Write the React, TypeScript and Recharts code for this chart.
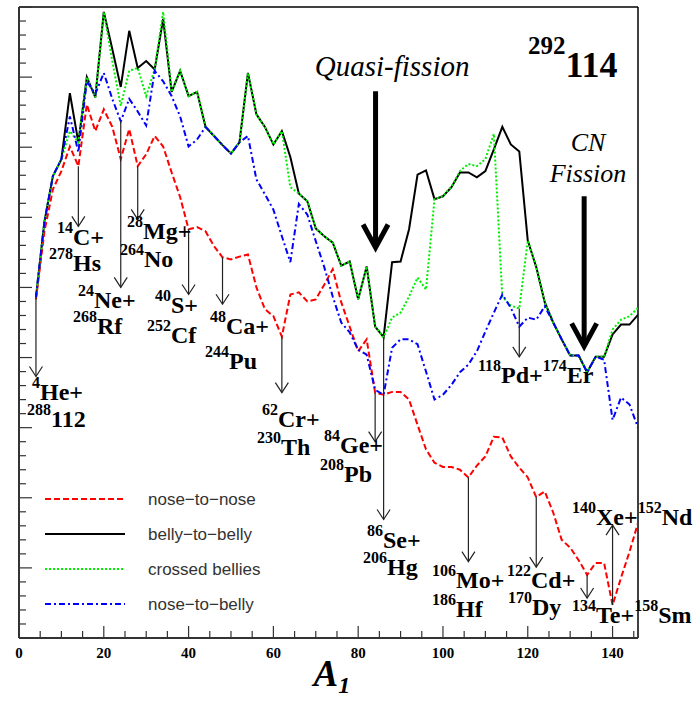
import React from 'react';
import { LineChart, Line, XAxis, YAxis, ReferenceLine, ReferenceDot, Legend } from 'recharts';

// light fragment mass A1, sampled every 2 units
const massNumbers = [
  4, 6, 8, 10, 12, 14, 16, 18, 20, 22,
  24, 26, 28, 30, 32, 34, 36, 38, 40, 42,
  44, 46, 48, 50, 52, 54, 56, 58, 60, 62,
  64, 66, 68, 70, 72, 74, 76, 78, 80, 82,
  84, 86, 88, 90, 92, 94, 96, 98, 100, 102,
  104, 106, 108, 110, 112, 114, 116, 118, 120, 122,
  124, 126, 128, 130, 132, 134, 136, 138, 140, 142,
  144, 146,
];

const noseToNose = [
  4.83, 5.80, 6.40, 6.66, 7.01, 6.73, 7.61, 7.23, 7.54, 7.29,
  6.83, 7.26, 6.73, 6.90, 7.16, 7.01, 6.64, 6.29, 5.83, 5.86,
  5.80, 5.59, 5.43, 5.40, 5.44, 5.47, 5.00, 4.69, 4.59, 4.30,
  4.90, 4.93, 4.80, 4.83, 5.04, 5.26, 4.79, 4.44, 4.09, 4.26,
  3.50, 3.47, 3.51, 3.51, 3.40, 3.04, 2.69, 2.50, 2.44, 2.44,
  2.40, 2.29, 2.46, 2.59, 2.87, 2.86, 2.59, 2.43, 2.29, 2.01,
  2.09, 1.79, 1.40, 1.29, 1.11, 0.90, 1.07, 1.07, 0.47, 0.86,
  1.23, 1.64,
];

const bellyToBelly = [
  4.86, 5.94, 6.59, 6.83, 7.77, 7.07, 8.00, 7.71, 8.93, 8.40,
  7.86, 8.66, 8.13, 8.23, 8.11, 8.83, 7.79, 8.09, 7.73, 7.79,
  7.29, 7.16, 7.03, 6.91, 7.07, 8.06, 7.47, 7.29, 7.04, 7.23,
  6.86, 6.34, 6.23, 5.84, 5.73, 5.64, 5.31, 5.37, 4.83, 5.30,
  4.44, 4.29, 5.36, 5.37, 5.83, 6.61, 6.67, 6.26, 6.30, 6.43,
  6.64, 6.64, 6.57, 6.66, 6.97, 7.29, 7.04, 6.94, 5.67, 5.29,
  4.79, 4.50, 4.26, 4.03, 4.03, 3.79, 4.01, 4.01, 4.33, 4.47,
  4.47, 4.61,
];

const crossedBellies = [
  4.86, 5.94, 6.59, 6.83, 7.23, 7.07, 8.00, 7.71, 8.93, 8.23,
  7.59, 8.09, 8.13, 7.73, 8.11, 8.93, 7.79, 8.09, 7.73, 7.79,
  7.29, 7.16, 7.03, 6.91, 7.07, 8.06, 7.47, 7.29, 7.04, 7.23,
  6.43, 6.34, 6.23, 5.84, 5.73, 5.64, 5.31, 5.37, 4.83, 5.30,
  4.44, 4.29, 4.57, 4.64, 4.87, 5.14, 4.97, 6.26, 6.30, 6.44,
  6.66, 6.76, 6.73, 6.83, 7.19, 4.87, 4.74, 4.70, 5.67, 5.29,
  4.79, 4.50, 4.26, 4.03, 4.03, 3.79, 4.01, 4.01, 4.40, 4.54,
  4.59, 4.71,
];

const noseToBelly = [
  4.86, 5.94, 6.59, 6.83, 7.44, 6.93, 7.94, 7.76, 8.06, 7.69,
  7.37, 7.69, 7.51, 7.31, 8.09, 7.94, 7.73, 7.44, 7.01, 7.11,
  7.29, 7.16, 7.03, 6.91, 7.07, 7.16, 6.54, 6.33, 6.11, 5.73,
  5.36, 6.19, 6.04, 5.66, 5.29, 4.87, 4.50, 4.36, 4.11, 4.04,
  3.54, 3.47, 4.14, 4.26, 4.26, 4.19, 3.80, 3.40, 3.47, 3.61,
  3.79, 3.90, 4.09, 4.37, 4.64, 4.90, 4.71, 4.44, 4.57, 4.54,
  4.73, 4.50, 4.26, 4.03, 4.03, 3.79, 4.01, 3.97, 3.11, 3.43,
  3.33, 3.00,
];

const xTicks = [
  0, 5, 10, 15, 20, 25, 30, 35, 40, 45, 50, 55, 60, 65, 70,
  75, 80, 85, 90, 95, 100, 105, 110, 115, 120, 125, 130, 135, 140, 145,
];
const xTickLabels = [0, 20, 40, 60, 80, 100, 120, 140];

const yTicks = [
  0, 0.2, 0.4, 0.6, 0.8, 1, 1.2, 1.4, 1.6, 1.8, 2, 2.2, 2.4, 2.6, 2.8,
  3, 3.2, 3.4, 3.6, 3.8, 4, 4.2, 4.4, 4.6, 4.8, 5, 5.2, 5.4, 5.6, 5.8,
  6, 6.2, 6.4, 6.6, 6.8, 7, 7.2, 7.4, 7.6, 7.8, 8, 8.2, 8.4, 8.6, 8.8, 9,
];

const series = [
  { key: 'noseToNose', name: 'nose\u2212to\u2212nose', color: '#ff0000', dash: '6 3' },
  { key: 'bellyToBelly', name: 'belly\u2212to\u2212belly', color: '#000000', dash: undefined },
  { key: 'crossedBellies', name: 'crossed bellies', color: '#00ee00', dash: '2 2' },
  { key: 'noseToBelly', name: 'nose\u2212to\u2212belly', color: '#0000ff', dash: '6 3 2 3' },
];

const data = massNumbers.map((a, i) => ({
  a,
  noseToNose: noseToNose[i],
  bellyToBelly: bellyToBelly[i],
  crossedBellies: crossedBellies[i],
  noseToBelly: noseToBelly[i],
}));

const valueAt = (key: string, mass: number) => {
  const row: any = data.find((d) => d.a === mass);
  return row ? row[key] : 0;
};

// decay channels: arrow from a curve down (or up) to the channel label
const channelArrows = [
  { mass: 4, from: 'bellyToBelly', tip: 3.73 },
  { mass: 14, from: 'noseToNose', tip: 5.87 },
  { mass: 24, from: 'noseToBelly', tip: 5.0 },
  { mass: 28, from: 'noseToNose', tip: 5.97 },
  { mass: 40, from: 'noseToNose', tip: 4.9 },
  { mass: 48, from: 'noseToNose', tip: 4.76 },
  { mass: 62, from: 'noseToNose', tip: 3.5 },
  { mass: 84, from: 'noseToNose', tip: 2.8 },
  { mass: 86, from: 'bellyToBelly', tip: 1.69 },
  { mass: 106, from: 'noseToNose', tip: 1.09 },
  { mass: 118, from: 'crossedBellies', tip: 4.01 },
  { mass: 122, from: 'noseToNose', tip: 1.01 },
  { mass: 134, from: 'noseToNose', tip: 0.57 },
  { mass: 140, from: 'noseToNose', tip: 1.61 },
];

// each label line: [mass number, symbol] pairs
const channelLabels: { a: number; v: number; parts: [string, string][] }[] = [
  { a: 3.07, v: 3.4, parts: [['4', 'He+']] },
  { a: 1.89, v: 3.01, parts: [['288', '112']] },
  { a: 8.96, v: 5.61, parts: [['14', 'C+']] },
  { a: 7.08, v: 5.23, parts: [['278', 'Hs']] },
  { a: 13.92, v: 4.71, parts: [['24', 'Ne+']] },
  { a: 12.74, v: 4.33, parts: [['268', 'Rf']] },
  { a: 25.47, v: 5.69, parts: [['28', 'Mg+']] },
  { a: 23.82, v: 5.29, parts: [['264', 'No']] },
  { a: 32.08, v: 4.64, parts: [['40', 'S+']] },
  { a: 30.19, v: 4.21, parts: [['252', 'Cf']] },
  { a: 45.05, v: 4.33, parts: [['48', 'Ca+']] },
  { a: 43.87, v: 3.83, parts: [['244', 'Pu']] },
  { a: 57.32, v: 3.01, parts: [['62', 'Cr+']] },
  { a: 56.14, v: 2.61, parts: [['230', 'Th']] },
  { a: 71.94, v: 2.64, parts: [['84', 'Ge+']] },
  { a: 71.0, v: 2.23, parts: [['208', 'Pb']] },
  { a: 82.08, v: 1.29, parts: [['86', 'Se+']] },
  { a: 81.14, v: 0.9, parts: [['206', 'Hg']] },
  { a: 97.41, v: 0.71, parts: [['106', 'Mo+']] },
  { a: 97.41, v: 0.3, parts: [['186', 'Hf']] },
  { a: 115.1, v: 0.71, parts: [['122', 'Cd+']] },
  { a: 115.34, v: 0.33, parts: [['170', 'Dy']] },
  { a: 130.43, v: 0.21, parts: [['134', 'Te+'], ['158', 'Sm']] },
  { a: 130.43, v: 1.61, parts: [['140', 'Xe+'], ['152', 'Nd']] },
  { a: 108.26, v: 3.64, parts: [['118', 'Pd+'], ['174', 'Er']] },
];

const serif = '"Liberation Serif", "Times New Roman", Times, serif';
const sans = '"Liberation Sans", Arial, Helvetica, sans-serif';

function Arrow(props: any) {
  const { x1, y1, y2, up, heavy } = props;
  if (x1 == null || y1 == null || y2 == null) return null;
  const tipY = up ? Math.min(y1, y2) : Math.max(y1, y2);
  const tailY = up ? Math.max(y1, y2) : Math.min(y1, y2);
  const back = up ? 1 : -1;
  const hw = heavy ? 12.5 : 6.5;
  const hh = heavy ? 23 : 10;
  const stroke = heavy ? '#000' : '#222';
  const sw = heavy ? 5 : 1.2;
  return (
    <g>
      <line x1={x1} y1={tailY} x2={x1} y2={tipY + back * (heavy ? 3 : 0)} stroke={stroke} strokeWidth={sw} />
      <path
        d={`M${x1 - hw},${tipY + back * hh} L${x1},${tipY} L${x1 + hw},${tipY + back * hh}`}
        fill="none"
        stroke={stroke}
        strokeWidth={sw}
        strokeLinejoin="miter"
      />
    </g>
  );
}

function Nuclide({ cx, cy, parts }: any) {
  if (cx == null || cy == null) return null;
  const spans: React.ReactNode[] = [];
  parts.forEach(([mass, sym]: [string, string], i: number) => {
    spans.push(
      <tspan key={`m${i}`} fontSize={16} dy={-12}>
        {mass}
      </tspan>
    );
    spans.push(
      <tspan key={`s${i}`} fontSize={24} dy={12}>
        {sym}
      </tspan>
    );
  });
  return (
    <text x={cx} y={cy} fontFamily={serif} fontWeight="bold" fill="#000">
      {spans}
    </text>
  );
}

function XTick(props: any) {
  const { x, y, payload } = props;
  const v = payload.value;
  const major = v % 20 === 0;
  return (
    <g>
      <line x1={x} y1={y} x2={x} y2={y - (major ? 12 : 7)} stroke="#333" strokeWidth={1.2} />
      {xTickLabels.includes(v) && (
        <text x={x} y={y + 20} textAnchor="middle" fontFamily={serif} fontWeight="bold" fontSize={15} fill="#000">
          {v}
        </text>
      )}
    </g>
  );
}

function YTick(props: any) {
  const { x, y, payload } = props;
  const v = payload.value;
  const major = Math.abs(v - Math.round(v)) < 1e-6;
  return <line x1={x} y1={y} x2={x + (major ? 13 : 7)} y2={y} stroke="#333" strokeWidth={1.2} />;
}

function AxisTitle(props: any) {
  const vb = props.viewBox || { x: 19, y: 638, width: 619 };
  return (
    <text x={vb.x + vb.width / 2 - 15} y={vb.y + 48} fontFamily={serif} fontStyle="italic" fontWeight="bold" fontSize={37} fill="#000">
      A
      <tspan fontSize={24} dy={7}>
        1
      </tspan>
    </text>
  );
}

function LegendBox() {
  return (
    <svg width={300} height={130}>
      {series.map((s, i) => {
        const y = 14 + i * 35;
        return (
          <g key={s.key}>
            <line x1={5} y1={y} x2={85} y2={y} stroke={s.color} strokeWidth={2} strokeDasharray={s.dash} />
            <text x={108} y={y + 6} fontFamily={sans} fontSize={17} fill="#333">
              {s.name}
            </text>
          </g>
        );
      })}
    </svg>
  );
}

export default function App() {
  return (
    <div style={{ position: 'absolute', left: 0, top: 0, width: 693, height: 702, background: '#fff' }}>
      <LineChart width={693} height={702} data={data} margin={{ top: 7, right: 55, bottom: 0, left: 0 }}>
        <XAxis
          dataKey="a"
          type="number"
          domain={[0, 146]}
          ticks={xTicks}
          interval={0}
          tickSize={0}
          tickMargin={0}
          tickLine={false}
          axisLine={{ stroke: '#333', strokeWidth: 2 }}
          tick={(p: any) => <XTick {...p} />}
          height={64}
          allowDataOverflow
          label={<AxisTitle />}
        />
        <YAxis
          type="number"
          domain={[0, 9]}
          ticks={yTicks}
          interval={0}
          tickSize={0}
          tickMargin={0}
          tickLine={false}
          axisLine={{ stroke: '#333', strokeWidth: 2 }}
          tick={(p: any) => <YTick {...p} />}
          width={19}
          allowDataOverflow
        />
        <ReferenceLine y={9} stroke="#000" strokeWidth={1.5} ifOverflow="visible" />
        <ReferenceLine x={146} stroke="#000" strokeWidth={1.5} ifOverflow="visible" />

        <Line type="linear" dataKey="bellyToBelly" name={series[1].name} stroke={series[1].color} strokeWidth={2} dot={false} isAnimationActive={false} />
        <Line type="linear" dataKey="noseToNose" name={series[0].name} stroke={series[0].color} strokeWidth={2} strokeDasharray={series[0].dash} dot={false} isAnimationActive={false} />
        <Line type="linear" dataKey="crossedBellies" name={series[2].name} stroke={series[2].color} strokeWidth={2} strokeDasharray={series[2].dash} dot={false} isAnimationActive={false} />
        <Line type="linear" dataKey="noseToBelly" name={series[3].name} stroke={series[3].color} strokeWidth={2} strokeDasharray={series[3].dash} dot={false} isAnimationActive={false} />

        {channelArrows.map((c) => {
          const start = valueAt(c.from, c.mass);
          return (
            <ReferenceLine
              key={`arr${c.mass}`}
              segment={[{ x: c.mass, y: start }, { x: c.mass, y: c.tip }]}
              ifOverflow="visible"
              shape={(p: any) => <Arrow {...p} up={c.tip > start} />}
            />
          );
        })}

        {/* quasi-fission and compound-nucleus fission markers */}
        <ReferenceLine segment={[{ x: 84.1, y: 7.8 }, { x: 84.1, y: 5.57 }]} ifOverflow="visible" shape={(p: any) => <Arrow {...p} heavy />} />
        <ReferenceLine segment={[{ x: 133.3, y: 6.3 }, { x: 133.3, y: 4.16 }]} ifOverflow="visible" shape={(p: any) => <Arrow {...p} heavy />} />

        {channelLabels.map((l, i) => (
          <ReferenceDot key={`lab${i}`} x={l.a} y={l.v} r={0} ifOverflow="visible" shape={(p: any) => <Nuclide cx={p.cx} cy={p.cy} parts={l.parts} />} />
        ))}

        <ReferenceDot
          x={88}
          y={8.01}
          ifOverflow="visible"
          shape={(p: any) => (
            <text x={p.cx} y={p.cy} textAnchor="middle" fontFamily={serif} fontStyle="italic" fontSize={29} fill="#000">
              Quasi-fission
            </text>
          )}
        />
        <ReferenceDot
          x={134.2}
          y={6.94}
          ifOverflow="visible"
          shape={(p: any) => (
            <text x={p.cx} y={p.cy} textAnchor="middle" fontFamily={serif} fontStyle="italic" fontSize={26} fill="#000">
              CN
            </text>
          )}
        />
        <ReferenceDot
          x={134.2}
          y={6.51}
          ifOverflow="visible"
          shape={(p: any) => (
            <text x={p.cx} y={p.cy} textAnchor="middle" fontFamily={serif} fontStyle="italic" fontSize={26} fill="#000">
              Fission
            </text>
          )}
        />
        <ReferenceDot
          x={120.06}
          y={8.0}
          ifOverflow="visible"
          shape={(p: any) => (
            <text x={p.cx} y={p.cy} fontFamily={serif} fontWeight="bold" fill="#000">
              <tspan fontSize={25} dy={-23}>
                292
              </tspan>
              <tspan fontSize={36} dy={23}>
                114
              </tspan>
            </text>
          )}
        />

        <Legend
          layout="vertical"
          align="center"
          verticalAlign="middle"
          wrapperStyle={{ left: 40, top: 485, width: 300, height: 130 }}
          content={() => <LegendBox />}
        />
      </LineChart>
    </div>
  );
}
